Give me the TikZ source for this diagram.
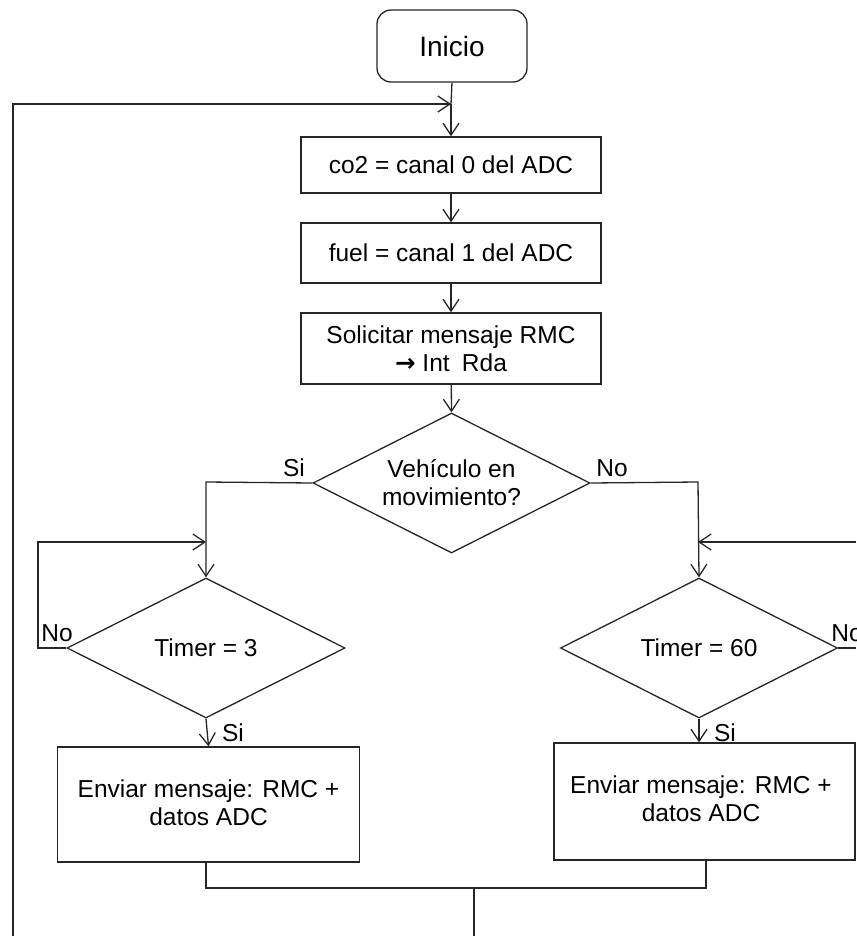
\documentclass[tikz,border=0pt]{standalone}
\usepackage{fontspec}
\setmainfont{Liberation Sans}
\newfontfamily\arrowfont{DejaVu Sans}
\usetikzlibrary{shapes.geometric,arrows.meta}

\begin{document}
\begin{tikzpicture}[x=1pt,y=-1pt,
  every node/.style={font=\fontsize{24.5}{28}\selectfont, inner sep=0pt},
  line/.style={draw=black!85, line width=1.3pt},
  flow/.style={line, -{Straight Barb[length=12pt,width=16pt,line width=1.3pt]}},
  startbox/.style={line, rounded corners=14pt, minimum width=150pt, minimum height=72pt,
    font=\fontsize{28}{32}\selectfont},
  procbox/.style={line, minimum width=300pt, align=center},
  decision/.style={line, diamond, aspect=2, align=center},
  tag/.style={anchor=base}
]
% page frame
\useasboundingbox (0,0) rectangle (856,936);

% main column
\node[startbox] (inicio) at (452,46) {Inicio};
\node[procbox, minimum height=56pt] (b1) at (451,165) {co2 = canal 0 del ADC};
\node[procbox, minimum height=60pt] (b2) at (451,253) {fuel = canal 1 del ADC};
\node[procbox, minimum height=71pt] (b3) at (451,348.5) {Solicitar mensaje RMC\\{\arrowfont\bfseries →} Int\enspace Rda};
\node[decision, minimum width=277pt, minimum height=140pt] (d1) at (451.5,483) {Vehículo en\\movimiento?};

% branches
\node[decision, minimum width=278pt, minimum height=140pt] (d2) at (206,648) {Timer = 3};
\node[decision, minimum width=277pt, minimum height=140pt] (d3) at (699,648) {Timer = 60};
\node[procbox, minimum width=302pt, minimum height=115pt] (e1) at (208.5,804.5) {};
\node[procbox, minimum width=301pt, minimum height=117pt] (e2) at (704.5,801.5) {};
\node[align=center] (e1t) at (208.5,803) {Enviar mensaje: RMC +\\datos ADC};
\node[align=center] (e2t) at (701,799) {Enviar mensaje: RMC +\\datos ADC};

% bend points and free ends
\coordinate (top) at (451,104);
\coordinate (loopL) at (13,104);
\coordinate (downL) at (13,936);
\coordinate (siC) at (206,482);
\coordinate (noC) at (698,482);
\coordinate (l3a) at (38,648);
\coordinate (l3b) at (38,542);
\coordinate (j3) at (206,542);
\coordinate (j60) at (698,542);
\coordinate (r60a) at (856,648);
\coordinate (r60b) at (856,542);
\coordinate (m1) at (206,888);
\coordinate (m2) at (706,888);
\coordinate (mid) at (474,888);
\coordinate (down) at (474,936);

% connectors of the main column
\draw[line] (inicio.south) -- (top);
\draw[flow] (top) -- (b1.north);
\draw[flow] (downL) -- (loopL) -- (top);
\draw[flow] (b1) -- (b2);
\draw[flow] (b2) -- (b3);
\draw[flow] (b3) -- (d1.north);

% moving: poll every 3
\draw[flow] (d1.west) -- (siC) -- (d2.north);
\draw[flow] (d2.west) -- (l3a) -- (l3b) -- (j3);
\draw[flow] (d2.south) -- (e1.north);

% stopped: poll every 60
\draw[flow] (d1.east) -- (noC) -- (d3.north);
\draw[line] (d3.east) -- (r60a);
\draw[flow] (r60b) -- (j60);
\draw[flow] (d3.south) -- (d3.south |- e2.north);

% merge back
\draw[line] (e1.south -| m1) -- (m1) -- (m2) -- (e2.south -| m2);
\draw[line] (mid) -- (down);

% branch labels
\node[tag] (si1) at (294,476) {Si};
\node[tag] (no1) at (612,476) {No};
\node[tag] (no2) at (57,641) {No};
\node[tag] (no3) at (847,641) {No};
\node[tag] (si2) at (233,741) {Si};
\node[tag] (si3) at (725,741) {Si};
\end{tikzpicture}
\end{document}
